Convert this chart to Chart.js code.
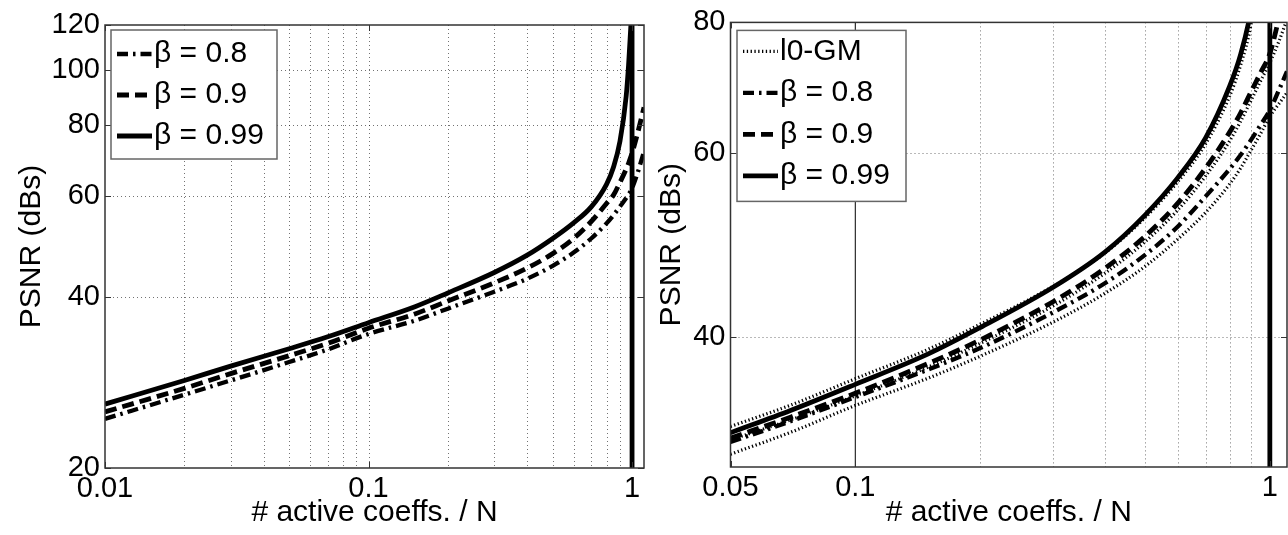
<!DOCTYPE html>
<html>
<head>
<meta charset="utf-8">
<script src="https://cdn.jsdelivr.net/npm/chart.js@4.4.0/dist/chart.umd.min.js"></script>
<style>
  html, body { margin: 0; padding: 0; background: #fff; }
  #wrap { position: relative; width: 1288px; height: 535px; }
  #left { position: absolute; left: 0; top: 0; }
  #right { position: absolute; left: 650px; top: 0; }
</style>
</head>
<body>
<div id="wrap">
  <canvas id="left" width="650" height="535"></canvas>
  <canvas id="right" width="638" height="535"></canvas>
</div>
<script>
var FONT = '"Liberation Sans", Arial, sans-serif';

// ---- left panel data ----
var xL = [0.01, 0.02, 0.03, 0.05, 0.07, 0.1, 0.15, 0.2, 0.3, 0.4, 0.5, 0.6, 0.7, 0.8, 0.85, 0.9, 0.95, 0.97, 0.99, 1.0, 1.05, 1.11];
var beta08L  = [24.4, 26.9, 28.5, 30.7, 32.3, 34.4, 36.3, 38.1, 40.8, 43.0, 45.3, 47.8, 50.6, 53.8, 55.6, 57.6, 59.6, 60.5, 61.4, 62.0, 66.0, 72.0];
var beta09L  = [25.1, 27.6, 29.3, 31.5, 33.1, 35.2, 37.3, 39.3, 42.3, 44.9, 47.6, 50.6, 54.2, 58.3, 60.3, 63.5, 67.0, 68.6, 70.5, 71.5, 77.5, 86.0];
var beta099L = [25.9, 28.5, 30.2, 32.4, 34.0, 36.0, 38.4, 40.6, 44.1, 47.3, 50.6, 53.9, 57.5, 63.0, 67.5, 75.0, 90.0, 102, 120, null, null, null];
var dropXL = [1, 1];
var dropYL = [120, 20];

var xTicksL = [0.01, 0.1, 1];
var yTicksL = [20, 40, 60, 80, 100, 120];
var xGridL = [0.02, 0.03, 0.04, 0.05, 0.06, 0.07, 0.08, 0.09, 0.1, 0.2, 0.3, 0.4, 0.5, 0.6, 0.7, 0.8, 0.9];
var yGridL = [40, 60, 80, 100];

// ---- right panel data ----
var xR = [0.05, 0.07, 0.1, 0.15, 0.2, 0.3, 0.4, 0.5, 0.6, 0.7, 0.8, 0.85, 0.9, 0.95, 1.0, 1.05, 1.1];
var l0gmTopR = [32.8, 34.4, 36.45, 38.9, 41.1, 44.7, 48.1, 52.0, 56.3, 61.2, 68.0, 72.8, 79.5, 92.0, null, null, null];
var l0gmMidR = [31.85, 33.3, 35.1, 37.4, 39.4, 42.8, 46.0, 49.3, 52.9, 57.0, 61.6, 64.3, 67.3, 70.3, 73.2, 76.6, 80.5];
var l0gmLowR = [30.86, 32.4, 34.36, 36.5, 38.3, 41.3, 44.0, 46.7, 49.6, 52.6, 56.0, 58.0, 60.3, 62.6, 65.0, 66.8, 68.5];
var beta08R  = [31.7, 33.2, 35.0, 37.2, 39.0, 42.2, 45.0, 47.9, 51.0, 54.5, 57.9, 59.7, 61.7, 63.8, 65.9, 68.8, 71.8];
var beta09R  = [31.97, 33.5, 35.3, 37.7, 39.7, 43.2, 46.5, 49.9, 53.7, 58.0, 62.8, 65.5, 68.6, 71.6, 74.7, 80.5, 87.0];
var beta099R = [32.35, 34.0, 36.0, 38.5, 40.8, 44.6, 48.2, 52.3, 56.8, 62.0, 69.5, 74.5, 82.0, 95.0, null, null, null];
var dropXR = [1, 1];
var dropYR = [80, 30];
var markXR = [0.1, 0.1];
var markYR = [30, 80];

var xTicksR = [0.05, 0.1, 1];
var yTicksR = [40, 60, 80];
var xGridR = [0.2, 0.3, 0.4, 0.5, 0.6, 0.7, 0.8, 0.9];
var yGridR = [40, 60];

// line styles
var solid   = { w: 4.8, dash: [] };
var dashed  = { w: 4.8, dash: [12, 6] };
var dashDot = { w: 4.3, dash: [11, 5, 2.5, 5] };
var dotted  = { w: 3.2, dash: [1.3, 2.5] };
var thin    = { w: 1, dash: [], straight: true };
var drop    = { w: 4.8, dash: [], straight: true };

function pts(xs, ys) {
  return xs.map(function (x, i) { return { x: x, y: ys[i] }; });
}

function line(label, xs, ys, st, inLegend) {
  return {
    label: label,
    data: pts(xs, ys),
    borderColor: '#000',
    borderWidth: st.w,
    borderDash: st.dash,
    pointRadius: 0,
    fill: false,
    tension: 0,
    cubicInterpolationMode: st.straight ? 'default' : 'monotone',
    spanGaps: false,
    inLegend: inLegend
  };
}

// grid, box, inward ticks and legend box
var framePlugin = {
  id: 'frame',
  beforeDatasetsDraw: function (chart, args, opts) {
    var ctx = chart.ctx, a = chart.chartArea, xs = chart.scales.x, ys = chart.scales.y;
    ctx.save();
    ctx.strokeStyle = 'rgba(0,0,0,0.55)';
    ctx.lineWidth = 1;
    ctx.setLineDash([1, 3]);
    opts.xGrid.forEach(function (v) {
      var px = Math.round(xs.getPixelForValue(v)) + 0.5;
      ctx.beginPath(); ctx.moveTo(px, a.top); ctx.lineTo(px, a.bottom); ctx.stroke();
    });
    opts.yGrid.forEach(function (v) {
      var py = Math.round(ys.getPixelForValue(v)) + 0.5;
      ctx.beginPath(); ctx.moveTo(a.left, py); ctx.lineTo(a.right, py); ctx.stroke();
    });
    ctx.restore();
  },
  afterDatasetsDraw: function (chart, args, opts) {
    var ctx = chart.ctx, a = chart.chartArea, xs = chart.scales.x, ys = chart.scales.y;
    ctx.save();
    ctx.setLineDash([]);
    ctx.strokeStyle = '#333';
    ctx.lineWidth = 1.5;
    ctx.strokeRect(a.left, a.top, a.right - a.left, a.bottom - a.top);
    // inward ticks
    ctx.lineWidth = 1;
    opts.yTicks.forEach(function (v) {
      var py = Math.round(ys.getPixelForValue(v)) + 0.5;
      ctx.beginPath();
      ctx.moveTo(a.left, py); ctx.lineTo(a.left + 6, py);
      ctx.moveTo(a.right, py); ctx.lineTo(a.right - 6, py);
      ctx.stroke();
    });
    opts.xTicks.forEach(function (v) {
      var px = Math.round(xs.getPixelForValue(v)) + 0.5;
      ctx.beginPath();
      ctx.moveTo(px, a.bottom); ctx.lineTo(px, a.bottom - 6);
      ctx.moveTo(px, a.top); ctx.lineTo(px, a.top + 6);
      ctx.stroke();
    });

    // legend
    var L = opts.legend;
    var bx = a.left + L.dx, by = a.top + L.dy;
    ctx.fillStyle = '#fff';
    ctx.fillRect(bx, by, L.w, L.h);
    ctx.strokeStyle = '#666';
    ctx.lineWidth = 1.5;
    ctx.strokeRect(bx, by, L.w, L.h);
    var items = chart.data.datasets.filter(function (d) { return d.inLegend; });
    items.forEach(function (d, i) {
      var cy = by + L.first + i * L.rowH;
      ctx.save();
      ctx.strokeStyle = '#000';
      ctx.lineWidth = d.borderWidth;
      ctx.setLineDash(d.borderDash || []);
      ctx.beginPath(); ctx.moveTo(bx + 6, cy); ctx.lineTo(bx + 41, cy); ctx.stroke();
      ctx.restore();
      ctx.fillStyle = '#000';
      ctx.font = '30px ' + FONT;
      ctx.textBaseline = 'middle';
      ctx.textAlign = 'left';
      ctx.fillText(d.label, bx + 43, cy);
    });
    ctx.restore();
  }
};

function axes(xMin, xMax, xTicks, yMin, yMax, yTicks, yWidth, xHeight) {
  var tickFont = { family: FONT, size: 29 };
  var titleFont = { family: FONT, size: 30 };
  return {
    x: {
      type: 'logarithmic', min: xMin, max: xMax,
      afterBuildTicks: function (s) { s.ticks = xTicks.map(function (v) { return { value: v }; }); },
      afterFit: function (s) { s.height = xHeight; },
      grid: { display: false, drawTicks: false },
      border: { display: false },
      ticks: { autoSkip: false, maxRotation: 0, padding: 4, color: '#000', font: tickFont,
               callback: function (v) { return String(v); } },
      title: { display: true, text: '# active coeffs. / N', color: '#000', font: titleFont, padding: { top: 4, bottom: 4 } }
    },
    y: {
      type: 'logarithmic', min: yMin, max: yMax,
      afterBuildTicks: function (s) { s.ticks = yTicks.map(function (v) { return { value: v }; }); },
      afterFit: function (s) { s.width = yWidth; },
      grid: { display: false, drawTicks: false },
      border: { display: false },
      ticks: { autoSkip: false, padding: 5, color: '#000', font: tickFont,
               callback: function (v) { return String(v); } },
      title: { display: true, text: 'PSNR (dBs)', color: '#000', font: titleFont, padding: { top: 4, bottom: 4 } }
    }
  };
}

var chartLeft = new Chart(document.getElementById('left'), {
  type: 'line',
  data: {
    datasets: [
      line('\u03b2 = 0.8', xL, beta08L, dashDot, true),
      line('\u03b2 = 0.9', xL, beta09L, dashed, true),
      line('\u03b2 = 0.99', xL, beta099L, solid, true),
      line('', dropXL, dropYL, drop, false)
    ]
  },
  options: {
    responsive: false,
    animation: false,
    layout: { padding: { left: 10, right: 6, top: 25, bottom: 0 } },
    scales: axes(0.01, 1.11, xTicksL, 20, 120, yTicksL, 95, 67),
    plugins: {
      legend: { display: false },
      tooltip: { enabled: false },
      frame: { xGrid: xGridL, yGrid: yGridL, xTicks: xTicksL, yTicks: yTicksL,
               legend: { dx: 6, dy: 5, w: 166, h: 129, first: 24, rowH: 41 } }
    }
  },
  plugins: [framePlugin]
});

var chartRight = new Chart(document.getElementById('right'), {
  type: 'line',
  data: {
    datasets: [
      line('l0-GM', xR, l0gmTopR, dotted, true),
      line('\u03b2 = 0.8', xR, beta08R, dashDot, true),
      line('\u03b2 = 0.9', xR, beta09R, dashed, true),
      line('\u03b2 = 0.99', xR, beta099R, solid, true),
      line('l0-GM', xR, l0gmMidR, dotted, false),
      line('l0-GM', xR, l0gmLowR, dotted, false),
      line('', dropXR, dropYR, drop, false),
      line('', markXR, markYR, thin, false)
    ]
  },
  options: {
    responsive: false,
    animation: false,
    layout: { padding: { left: 0, right: 1, top: 18, bottom: 0 } },
    scales: axes(0.05, 1.1, xTicksR, 30, 80, yTicksR, 80.5, 68),
    plugins: {
      legend: { display: false },
      tooltip: { enabled: false },
      frame: { xGrid: xGridR, yGrid: yGridR, xTicks: xTicksR, yTicks: yTicksR,
               legend: { dx: 6.5, dy: 8, w: 169, h: 171, first: 21, rowH: 41.5 } }
    }
  },
  plugins: [framePlugin]
});
</script>
</body>
</html>
